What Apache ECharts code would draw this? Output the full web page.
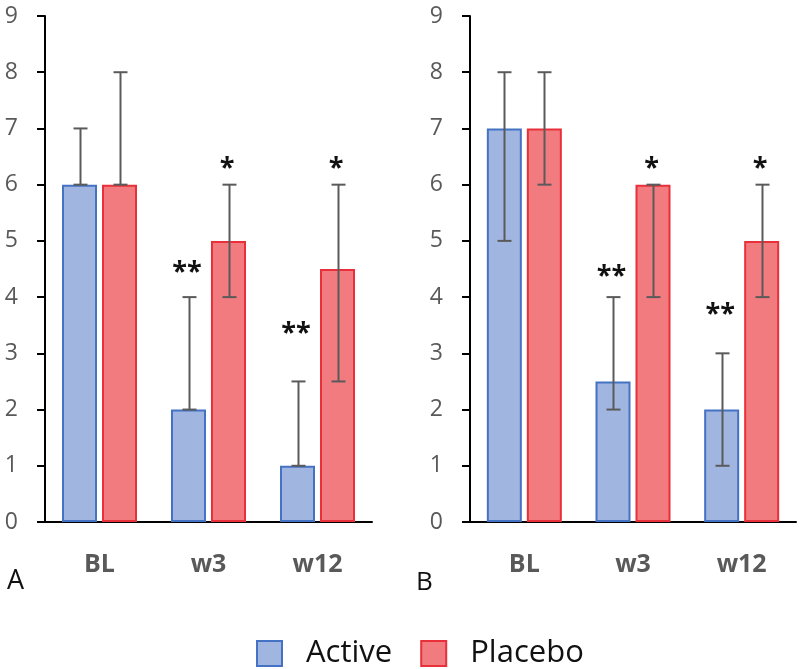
<!DOCTYPE html>
<html>
<head>
<meta charset="utf-8">
<script src="https://cdn.jsdelivr.net/npm/echarts@6/dist/echarts.min.js"></script>
<style>
html,body{margin:0;padding:0;background:#fff;}
#chart{width:800px;height:669px;}
</style>
</head>
<body>
<div id="chart"></div>
<script>
// ---- data ----
const categories = ['BL', 'w3', 'w12'];
const yTicks = [0, 9, 1]; // min, max, interval

// Panel A
const aActive = [6, 2, 1];
const aActiveLow = [6, 2, 1];
const aActiveHigh = [7, 4, 2.5];
const aPlacebo = [6, 5, 4.5];
const aPlaceboLow = [6, 4, 2.5];
const aPlaceboHigh = [8, 6, 6];
const aActiveSig = ['', '**', '**'];
const aActiveSigY = [null, 4.55, 3.46];
const aPlaceboSig = ['', '*', '*'];
const aPlaceboSigY = [null, 6.39, 6.39];

// Panel B
const bActive = [7, 2.5, 2];
const bActiveLow = [5, 2, 1];
const bActiveHigh = [8, 4, 3];
const bPlacebo = [7, 6, 5];
const bPlaceboLow = [6, 4, 4];
const bPlaceboHigh = [8, 6, 6];
const bActiveSig = ['', '**', '**'];
const bActiveSigY = [null, 4.48, 3.80];
const bPlaceboSig = ['', '*', '*'];
const bPlaceboSigY = [null, 6.39, 6.39];

const panelLabels = ['A', 'B'];
const seriesNames = ['Active', 'Placebo'];

// ---- styles ----
const FONT = '"Open Sans", "Liberation Sans", sans-serif';
const BAR_W = 35;
const BAR_GAP_PX = 5;
const HALF = (BAR_W + BAR_GAP_PX) / 2;
const CAP = 7;
const activeStyle = { color: '#a0b5e0', borderColor: '#4472c4', borderWidth: 2 };
const placeboStyle = { color: '#f27b80', borderColor: '#e8303a', borderWidth: 2 };

function errData(low, high) {
  return low.map((l, i) => [i, l, high[i]]);
}
function errSeries(low, high, axisIdx, side) {
  return {
    type: 'custom', xAxisIndex: axisIdx, yAxisIndex: axisIdx, z: 5,
    data: errData(low, high),
    renderItem: function (params, api) {
      const i = api.value(0);
      const pLo = api.coord([i, api.value(1)]);
      const pHi = api.coord([i, api.value(2)]);
      const x = Math.round(pLo[0] + side * HALF) + 0.5;
      const st = { stroke: '#5a5a5a', lineWidth: 2 };
      return {
        type: 'group',
        children: [
          { type: 'line', shape: { x1: x, y1: pLo[1], x2: x, y2: pHi[1] }, style: st },
          { type: 'line', shape: { x1: x - CAP, y1: pHi[1], x2: x + CAP, y2: pHi[1] }, style: st },
          { type: 'line', shape: { x1: x - CAP, y1: pLo[1], x2: x + CAP, y2: pLo[1] }, style: st }
        ]
      };
    }
  };
}
function sigSeries(labels, ys, axisIdx, side) {
  const data = [];
  ys.forEach((y, i) => { if (y != null) data.push([i, y, labels[i]]); });
  return {
    type: 'custom', xAxisIndex: axisIdx, yAxisIndex: axisIdx, z: 6,
    data: data,
    renderItem: function (params, api) {
      const item = data[params.dataIndex];
      const p = api.coord([item[0], item[1]]);
      return {
        type: 'text',
        x: p[0] + side * HALF - 1.5,
        y: p[1] + 6,
        style: {
          text: item[2], fill: '#111', font: 'bold 27px ' + FONT,
          align: 'center', verticalAlign: 'middle'
        }
      };
    }
  };
}
function barSeries(name, data, axisIdx, style) {
  return {
    name: name, type: 'bar', xAxisIndex: axisIdx, yAxisIndex: axisIdx,
    data: data, barWidth: BAR_W, barGap: (BAR_GAP_PX / BAR_W * 100) + '%',
    itemStyle: style
  };
}
function xAxis(idx) {
  return {
    type: 'category', gridIndex: idx, data: categories,
    axisLine: { lineStyle: { color: '#000', width: 2 } },
    axisTick: { show: false },
    axisLabel: { color: '#595959', fontSize: 25, fontWeight: 'bold', fontFamily: FONT, margin: 30 }
  };
}
function yAxis(idx) {
  return {
    type: 'value', gridIndex: idx, min: yTicks[0], max: yTicks[1], interval: yTicks[2],
    axisLine: { show: true, lineStyle: { color: '#000', width: 2 } },
    axisTick: { show: true, length: 8, lineStyle: { color: '#000', width: 2 } },
    splitLine: { show: false },
    axisLabel: { color: '#595959', fontSize: 23, fontFamily: FONT, margin: 27 }
  };
}

const chart = echarts.init(document.getElementById('chart'), null, { renderer: 'canvas' });
chart.setOption({
  animation: false,
  backgroundColor: '#fff',
  grid: [
    { left: 45, right: 428, top: 16, bottom: 147 },
    { left: 470, right: 4, top: 16, bottom: 147 }
  ],
  xAxis: [xAxis(0), xAxis(1)],
  yAxis: [yAxis(0), yAxis(1)],
  legend: {
    data: seriesNames, left: 256, top: 638, padding: 0, icon: 'rect',
    itemWidth: 25, itemHeight: 25, itemGap: 28,
    textStyle: { color: '#111', fontSize: 31, fontFamily: FONT, padding: [0, 0, 0, 19] }
  },
  graphic: [
    { type: 'text', left: 7, top: 568, style: { text: panelLabels[0], fill: '#111', font: '27px ' + FONT } },
    { type: 'text', left: 416, top: 570, style: { text: panelLabels[1], fill: '#111', font: '26px ' + FONT } }
  ],
  series: [
    barSeries(seriesNames[0], aActive, 0, activeStyle),
    barSeries(seriesNames[1], aPlacebo, 0, placeboStyle),
    barSeries(seriesNames[0], bActive, 1, activeStyle),
    barSeries(seriesNames[1], bPlacebo, 1, placeboStyle),
    errSeries(aActiveLow, aActiveHigh, 0, -1),
    errSeries(aPlaceboLow, aPlaceboHigh, 0, 1),
    errSeries(bActiveLow, bActiveHigh, 1, -1),
    errSeries(bPlaceboLow, bPlaceboHigh, 1, 1),
    sigSeries(aActiveSig, aActiveSigY, 0, -1),
    sigSeries(aPlaceboSig, aPlaceboSigY, 0, 1),
    sigSeries(bActiveSig, bActiveSigY, 1, -1),
    sigSeries(bPlaceboSig, bPlaceboSigY, 1, 1)
  ]
});
</script>
</body>
</html>
